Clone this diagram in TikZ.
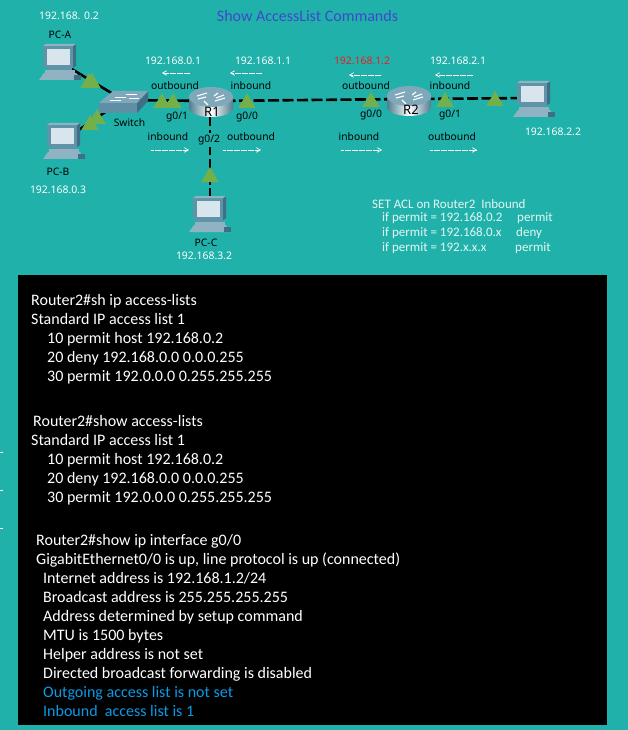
\documentclass[tikz,border=0pt]{standalone}
\usepackage{fontspec}
\setmainfont{Carlito}
\newfontfamily\ptfont{Noto Sans}
\definecolor{bgteal}{HTML}{20B2AA}
\definecolor{tgreen}{HTML}{74B04A}
\definecolor{ttl}{HTML}{3F48CC}
\definecolor{inblue}{HTML}{0A9BE6}
\definecolor{redip}{HTML}{ED1C24}
\definecolor{pcbody}{HTML}{5E93A8}
\definecolor{pcdark}{HTML}{3F6F86}
\definecolor{pcscreen}{HTML}{D9E5EC}
\definecolor{pcbase}{HTML}{8FB3C2}
\definecolor{swtop}{HTML}{7FA9BA}
\definecolor{swfront}{HTML}{5F8FA5}
\usetikzlibrary{arrows.meta,shapes.geometric}
\tikzset{
  >={Straight Barb[length=1.4mm,width=1.6mm]},
  devbox/.style={inner sep=0pt,minimum width=32pt,minimum height=30pt},
  cable/.style={draw=black,line width=2.6pt},
  dcable/.style={cable,dash pattern=on 11pt off 3.5pt},
  tri/.style={regular polygon,regular polygon sides=3,fill=tgreen,inner sep=0pt,minimum size=20pt},
  lab/.style={font=\ptfont\fontsize{10.3}{12}\selectfont,text=black,inner sep=0pt},
  ipw/.style={font=\ptfont\fontsize{10.4}{12}\selectfont,text=white,inner sep=0pt},
  dirarr/.style={->,draw=white,line width=0.7pt,dash pattern=on 3pt off 0.5pt},
  aclt/.style={font=\fontsize{13}{15}\selectfont,text=white!88!bgteal,anchor=west,inner sep=0pt},
  term/.style={font=\fontsize{16}{18}\selectfont,text=white,anchor=base west,inner sep=0pt},
  tick/.style={draw=white,line width=0.8pt},
  pcicon/.pic={
    \fill[pcbase] (-21,24) -- (-16,17) -- (16,17) -- (20,24) -- cycle;
    \fill[pcdark] (14,19) rectangle (21,24);
    \fill[pcbody] (-12,10) rectangle (12,17);
    \fill[pcbase] (-15,14) rectangle (15,17);
    \fill[pcbody] (-17,-10) rectangle (13,12);
    \fill[pcdark] (13,-10) -- (16,-12) -- (16,10) -- (13,12) -- cycle;
    \fill[pcbody!70!white] (-17,-10) -- (-14,-12) -- (16,-12) -- (13,-10) -- cycle;
    \fill[pcscreen] (-13,-7) rectangle (10,9);
  },
  rtricon/.pic={
    \shade[left color=pcbody!85!black,right color=pcbody!85!black,middle color=white]
      (-22,-5) -- (-22,6) arc[start angle=180,end angle=0,x radius=22,y radius=9] -- (22,-5) -- cycle;
    \fill[swtop] (0,-5) ellipse[x radius=22,y radius=10];
    \draw[white,line width=1.1pt] (-14,-6) -- (-4,-9) (14,-4) -- (4,-1) (-7,-1) -- (-3,3) (7,-9) -- (3,-6);
    \draw[white,line width=1.1pt] (-13,-3) -- (-5,-5) (13,-7) -- (5,-4);
  },
  swicon/.pic={
    \fill[swfront] (-24,3) rectangle (14,13);
    \fill[pcdark] (14,3) -- (25,-9) -- (25,1) -- (14,13) -- cycle;
    \fill[swtop] (-24,3) -- (-10,-9) -- (25,-9) -- (14,3) -- cycle;
    \draw[white,line width=0.7pt] (-8,-3) -- (3,-3) (3,-6) -- (14,-6) (-13,0) -- (-2,0) (6,-2) -- (16,-2);
  },
}
\begin{document}
\begin{tikzpicture}[x=1pt,y=-1pt]
\fill[bgteal] (0,0) rectangle (628,730);
\useasboundingbox (0,0) rectangle (628,730);
% devices
\node[devbox] (pca) at (60,62) {};
\node[devbox] (pcb) at (64,140) {};
\node[devbox] (pcc) at (210,215) {};
\node[devbox] (pcd) at (534,98) {};
\node[devbox] (sw) at (123,100) {};
\node[devbox] (r1) at (210,101) {};
\node[devbox] (r2) at (409,99) {};
% links
\draw[cable] (pca.center) -- (sw.center);
\draw[cable] (pcb.center) -- (sw.center);
\draw[cable] (sw.center) -- (r1.center);
\draw[dcable] (r1.center) -- (r2.center);
\draw[dcable] (r2.center) -- (pcd.center);
\draw[dcable] (r1.center) -- (pcc.center);
\pic at (60,56) {pcicon};
\pic at (64,135) {pcicon};
\pic at (210,208) {pcicon};
\pic at (534,93) {pcicon};
\pic at (123,100) {swicon};
\pic at (211,102) {rtricon};
\pic at (409,101) {rtricon};
% link lights
\foreach \n/\px/\py in {a/89/83,b/92/83,c/90/125,d/97/119,e/162/103,f/173/103,g/247/103,h/210/177,i/371/102,j/445/102,k/495/101}
  \node[tri] (tri\n) at (\px,\py) {};
% labels
\node[font=\fontsize{16}{18}\selectfont,text=ttl,inner sep=0pt] (title) at (307.5,16) {Show AccessList Commands};
\node[ipw] (ipa) at (69,16) {192.168. 0.2};
\node[lab] (pcalab) at (60,35) {PC-A};
\node[ipw] (ipb) at (58,190) {192.168.0.3};
\node[lab] (pcblab) at (58,172) {PC-B};
\node[ipw] (ipc) at (204,256) {192.168.3.2};
\node[lab] (pcclab) at (206,243) {PC-C};
\node[ipw] (ipd) at (553,132) {192.168.2.2};
\node[lab] (swlab) at (129.5,123) {Switch};
\node[lab,font=\ptfont\fontsize{13}{15}\selectfont] (r1lab) at (212,112) {R1};
\node[lab,font=\ptfont\fontsize{13}{15}\selectfont] (r2lab) at (411,110) {R2};
\node[lab,fill=bgteal,inner ysep=2pt] (gtwo) at (209,140) {g0/2};
\foreach \n/\px/\py/\txt in {ga/177/117/{g0/1},gb/247/117/{g0/0},gc/371/115/{g0/0},gd/450/115/{g0/1},o1/175/86/outbound,i1/251/86/inbound,i2/168/137/inbound,o2/251/137/outbound,o3/366/86/outbound,i3/450/86/inbound,i4/359/137/inbound,o4/452/137/outbound}
  \node[lab] (\n) at (\px,\py) {\txt};
\foreach \n/\px/\txt in {ipr1a/173/192.168.0.1,ipr1b/263/192.168.1.1,ipr2b/458/192.168.2.1}
  \node[ipw] (\n) at (\px,61) {\txt};
\node[ipw,text=redip] (ipr2a) at (362,61) {192.168.1.2};
% direction arrows
\foreach \n/\xa/\xb/\py in {a/190/162/73,b/262/230/73,c/381/349/75,d/473/435/75,e/151/189/150,f/223/261/150,g/341/382/150,h/430/477/150}{
  \coordinate (st\n) at (\xa,\py);
  \coordinate (en\n) at (\xb,\py);
  \draw[dirarr] (st\n) -- (en\n);
}
% acl note
\node[aclt] (aclhead) at (372,204) {SET ACL on Router2\ \ Inbound};
\foreach \n/\py/\txt/\px/\act in {a/218/192.168.0.2/517/permit,b/233/192.168.0.x/516/deny,c/248/192.x.x.x/515/permit}{
  \node[aclt] (acl\n) at (382,\py) {if permit = \txt};
  \node[aclt] (act\n) at (\px,\py) {\act};
}
% ticks
\foreach \n/\py in {a/452,b/490,c/528}{
  \coordinate (ticks\n) at (0,\py);
  \coordinate (tickh\n) at (2.5,\py);
  \draw[tick] (ticks\n) -- (tickh\n);
}
% terminal
\node[fill=black,minimum width=589pt,minimum height=450pt,inner sep=0pt] (termbox) at (312.5,500) {};
\foreach \py/\px/\txt in {305/31/Router2\#sh ip access-lists,324/31/Standard IP access list 1,343/47/10 permit host 192.168.0.2,362/47/20 deny 192.168.0.0 0.0.0.255,381/47/30 permit 192.0.0.0 0.255.255.255,
  426/33/Router2\#show access-lists,445/31/Standard IP access list 1,464/47/10 permit host 192.168.0.2,483/47/20 deny 192.168.0.0 0.0.0.255,502/47/30 permit 192.0.0.0 0.255.255.255,
  545/36/{Router2\#show ip interface g0/0},564/36/{GigabitEthernet0/0 is up, line protocol is up (connected)},583/43/{Internet address is 192.168.1.2/24},602/43/Broadcast address is 255.255.255.255,621/43/Address determined by setup command,640/43/MTU is 1500 bytes,659/43/Helper address is not set,678/43/Directed broadcast forwarding is disabled}
  \node[term] (line\py) at (\px,\py) {\txt};
\node[term,text=inblue] (line697) at (43,697) {Outgoing access list is not set};
\node[term,text=inblue] (line716) at (43,716) {Inbound\ \ access list is 1};
\end{tikzpicture}
\end{document}
